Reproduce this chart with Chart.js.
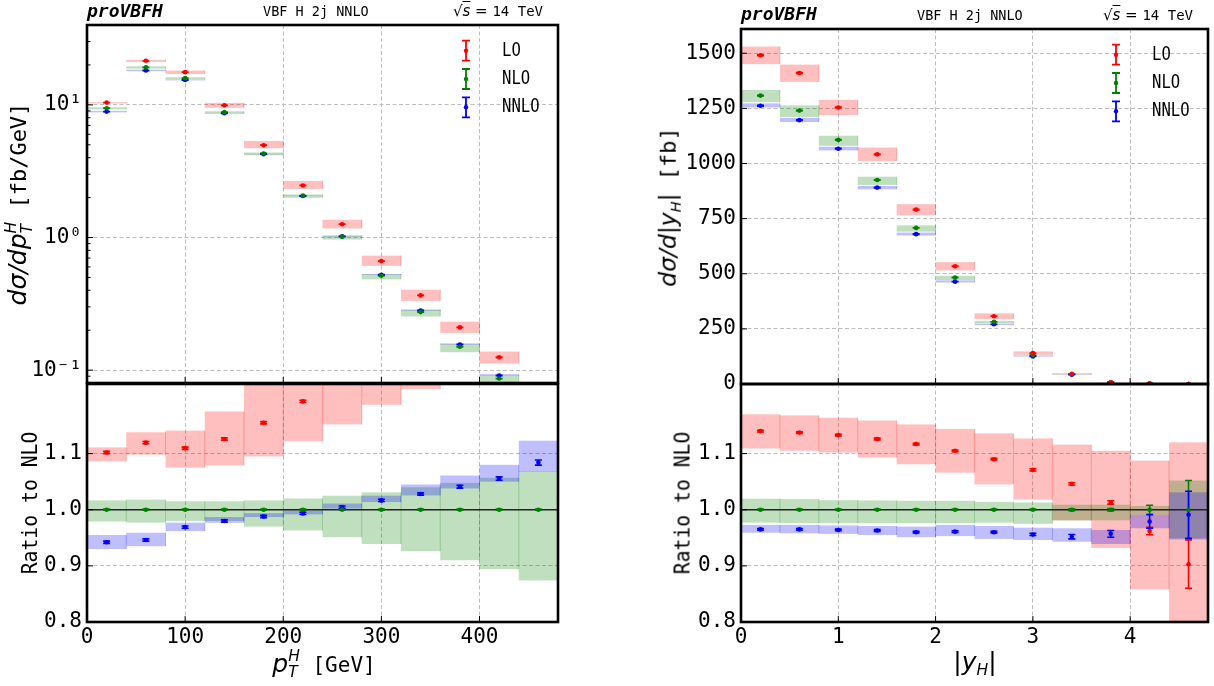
<!DOCTYPE html>
<html>
<head>
<meta charset="utf-8">
<title>proVBFH VBF H 2j NNLO</title>
<script src="https://cdn.jsdelivr.net/npm/chart.js@4/dist/chart.umd.min.js"></script>
<style>
  html, body { margin: 0; padding: 0; background: #fff; }
  #fig { position: relative; width: 1214px; height: 686px; overflow: hidden; background: #fff; }
  canvas { position: absolute; }
  .txt { position: absolute; white-space: nowrap; line-height: 1; color: #000; }
  .mono { font-family: "DejaVu Sans Mono", monospace; }
  .math { font-family: "DejaVu Sans", sans-serif; font-style: italic; }
  .up { font-family: "DejaVu Sans", sans-serif; }
  .rot { transform: translate(-50%, -50%) rotate(-90deg); }
  .rotc { transform: translate(-50%, -50%) rotate(-90deg) scaleX(0.94); }
  .hc { transform: translateX(-50%); }
  .ss { display: inline-block; vertical-align: -5px; font-size: 0.62em; line-height: 1; font-family: "DejaVu Sans", sans-serif; font-style: italic; }
  .ss span { display: block; }
  .sub { font-size: 0.62em; vertical-align: -5px; font-family: "DejaVu Sans", sans-serif; font-style: italic; }
  .ol { text-decoration: overline; }
</style>
</head>
<body>
<div id="fig">
  <canvas id="ptMain" width="570" height="390" style="left:0;top:0"></canvas>
  <canvas id="ptRatio" width="570" height="306" style="left:0;top:380px"></canvas>
  <canvas id="yhMain" width="574" height="390" style="left:640px;top:0"></canvas>
  <canvas id="yhRatio" width="574" height="306" style="left:640px;top:380px"></canvas>

  <div class="txt mono" style="left:87px;top:2px;font-size:18px;font-weight:bold;font-style:italic">proVBFH</div>
  <div class="txt mono" style="left:263px;top:5px;font-size:13.5px">VBF H 2j NNLO</div>
  <div class="txt" style="right:671px;top:4px;font-size:15px"><span class="up">√<span class="math ol">s</span> = </span><span class="mono" style="font-size:14px">14 TeV</span></div>

  <div class="txt mono" style="left:741px;top:5px;font-size:18px;font-weight:bold;font-style:italic">proVBFH</div>
  <div class="txt mono" style="left:917px;top:9px;font-size:13.5px">VBF H 2j NNLO</div>
  <div class="txt" style="right:21px;top:8px;font-size:15px"><span class="up">√<span class="math ol">s</span> = </span><span class="mono" style="font-size:14px">14 TeV</span></div>

  <div class="txt rot" style="left:19px;top:204px;font-size:25px"><span class="math">dσ/dp</span><span class="ss"><span>H</span><span>T</span></span><span class="mono" style="font-size:22px"> [fb/GeV]</span></div>
  <div class="txt mono rotc" style="left:30px;top:503px;font-size:21px">Ratio to NLO</div>
  <div class="txt hc" style="left:324px;top:649px;font-size:25px"><span class="math">p</span><span class="ss"><span>H</span><span>T</span></span><span class="mono" style="font-size:21px"> [GeV]</span></div>

  <div class="txt rot" style="left:670px;top:207px;font-size:23.5px"><span class="math">dσ/d</span><span class="up">|</span><span class="math">y</span><span class="sub">H</span><span class="up">|</span><span class="mono" style="font-size:22px"> [fb]</span></div>
  <div class="txt mono rotc" style="left:683px;top:503px;font-size:21px">Ratio to NLO</div>
  <div class="txt hc" style="left:975px;top:649px;font-size:25px"><span class="up">|</span><span class="math">y</span><span class="sub">H</span><span class="up">|</span></div>
</div>
<script>
// Higgs transverse momentum, bins of 40 GeV
const ptEdges = [0, 40, 80, 120, 160, 200, 240, 280, 320, 360, 400, 440, 480];
const ptNlo = [9.44, 19.2, 15.9, 8.81, 4.30, 2.07, 1.015, 0.515, 0.274, 0.150, 0.0864, 0.0496];
const ptLoRatio = [1.102, 1.1195, 1.1095, 1.126, 1.155, 1.193, 1.241, 1.289, 1.336, 1.40, 1.447, 1.50];
const ptLoDown = [1.086, 1.098, 1.075, 1.079, 1.095, 1.122, 1.152, 1.187, 1.215, 1.273, 1.296, 1.35];
const ptLoUp = [1.111, 1.138, 1.141, 1.175, 1.244, 1.29, 1.34, 1.417, 1.474, 1.547, 1.597, 1.625];
const ptLoStat = [0.002, 0.002, 0.002, 0.002, 0.002, 0.002, 0.002, 0.003, 0.003, 0.003, 0.004, 0.004];
const ptNloDown = [0.979, 0.977, 0.980, 0.980, 0.970, 0.963, 0.951, 0.939, 0.926, 0.910, 0.894, 0.874];
const ptNloUp = [1.0166, 1.018, 1.015, 1.015, 1.0166, 1.020, 1.025, 1.031, 1.040, 1.048, 1.057, 1.069];
const ptNloStat = [0.001, 0.001, 0.001, 0.001, 0.001, 0.001, 0.001, 0.001, 0.001, 0.001, 0.001, 0.001];
const ptNnloRatio = [0.942, 0.946, 0.969, 0.980, 0.988, 0.9935, 1.0047, 1.0166, 1.028, 1.041, 1.0556, 1.084];
const ptNnloDown = [0.930, 0.935, 0.962, 0.9767, 0.987, 0.9917, 1.002, 1.0136, 1.0254, 1.038, 1.050, 1.068];
const ptNnloUp = [0.955, 0.959, 0.977, 0.987, 0.994, 0.9988, 1.011, 1.025, 1.045, 1.061, 1.080, 1.123];
const ptNnloStat = [0.002, 0.002, 0.002, 0.002, 0.002, 0.002, 0.002, 0.002, 0.002, 0.0025, 0.003, 0.0045];

// Higgs absolute rapidity, bins of 0.4
const yhEdges = [0, 0.4, 0.8, 1.2, 1.6, 2.0, 2.4, 2.8, 3.2, 3.6, 4.0, 4.4, 4.8];
const yhNlo = [1308, 1240, 1107, 925, 708, 483, 282, 131, 44, 7.5, 1.6, 0.25];
const yhLoRatio = [1.140, 1.1375, 1.133, 1.126, 1.117, 1.105, 1.090, 1.071, 1.046, 1.013, 0.962, 0.903];
const yhLoDown = [1.109, 1.105, 1.102, 1.093, 1.081, 1.066, 1.045, 1.018, 0.981, 0.932, 0.858, 0.78];
const yhLoUp = [1.170, 1.168, 1.164, 1.159, 1.152, 1.144, 1.136, 1.127, 1.116, 1.105, 1.0875, 1.12];
const yhLoStat = [0.0015, 0.0015, 0.0015, 0.0015, 0.0015, 0.0015, 0.0015, 0.002, 0.002, 0.003, 0.0066, 0.043];
const yhNloDown = [0.977, 0.976, 0.976, 0.976, 0.976, 0.976, 0.977, 0.975, 0.981, 0.981, 0.991, 0.949];
const yhNloUp = [1.0196, 1.019, 1.017, 1.0165, 1.016, 1.016, 1.014, 1.013, 1.009, 1.009, 1.007, 1.052];
const yhNloStat = [0.001, 0.001, 0.001, 0.001, 0.001, 0.001, 0.001, 0.001, 0.0015, 0.002, 0.008, 0.052];
const yhNnloRatio = [0.965, 0.965, 0.964, 0.963, 0.960, 0.961, 0.960, 0.956, 0.952, 0.957, 0.979, 0.991];
const yhNnloDown = [0.959, 0.958, 0.957, 0.955, 0.951, 0.953, 0.948, 0.946, 0.943, 0.939, 0.967, 0.947];
const yhNnloUp = [0.973, 0.973, 0.972, 0.971, 0.970, 0.973, 0.971, 0.968, 0.967, 0.964, 0.991, 1.031];
const yhNnloStat = [0.0015, 0.0015, 0.0015, 0.0015, 0.0015, 0.0015, 0.0015, 0.002, 0.004, 0.006, 0.012, 0.042];

// axis ticks
const ptTicks = [0, 100, 200, 300, 400];
const yhTicks = [0, 1, 2, 3, 4];
const xsLogTicks = [0.1, 1, 10];
const xsLogMinor = [0.08, 0.09, 0.2, 0.3, 0.4, 0.5, 0.6, 0.7, 0.8, 0.9, 2, 3, 4, 5, 6, 7, 8, 9, 20, 30, 40];
const xsLogLabels = ['10⁻¹', '10⁰', '10¹'];
const yhXsTicks = [0, 250, 500, 750, 1000, 1250, 1500];
const ratioTicks = [0.8, 0.9, 1.0, 1.1];

const colors = { LO: '#ff0000', NLO: '#008000', NNLO: '#0000ff' };
const fills = { LO: 'rgba(255,0,0,0.25)', NLO: 'rgba(0,128,0,0.25)', NNLO: 'rgba(0,0,255,0.25)' };
const monoFont = '"DejaVu Sans Mono", monospace';
const gridColor = '#bdbdbd';

// one perturbative order, scaled by "base" (NLO cross section, or 1 for ratios)
function order(name, ratio, down, up, stat, base) {
  return {
    name,
    color: colors[name],
    fill: fills[name],
    y: ratio.map((r, i) => r * base[i]),
    lo: down.map((r, i) => r * base[i]),
    hi: up.map((r, i) => r * base[i]),
    err: stat.map((r, i) => r * base[i]),
  };
}

function drawPanel(id, spec) {
  const edges = spec.edges;
  const centers = edges.slice(0, -1).map((e, i) => (e + edges[i + 1]) / 2);

  const bandsAndBars = {
    id: 'bandsAndBars',
    beforeDatasetsDraw(chart) {
      const { ctx, chartArea: a, scales: { x, y } } = chart;
      ctx.save();
      ctx.beginPath();
      ctx.rect(a.left, a.top, a.right - a.left, a.bottom - a.top);
      ctx.clip();

      spec.series.forEach((s) => {
        ctx.fillStyle = s.fill;
        ctx.strokeStyle = s.fill;
        ctx.lineWidth = 1;
        s.lo.forEach((lo, i) => {
          const x0 = x.getPixelForValue(edges[i]);
          const x1 = x.getPixelForValue(edges[i + 1]);
          const y0 = y.getPixelForValue(s.hi[i]);
          const y1 = y.getPixelForValue(lo);
          ctx.fillRect(x0, y0, x1 - x0, y1 - y0);
          ctx.beginPath();
          ctx.moveTo(x1, y0);
          ctx.lineTo(x1, y1);
          ctx.stroke();
        });
      });

      if (spec.unitLine) {
        const py = y.getPixelForValue(1);
        ctx.strokeStyle = '#222';
        ctx.lineWidth = 1.3;
        ctx.beginPath();
        ctx.moveTo(a.left, py);
        ctx.lineTo(a.right, py);
        ctx.stroke();
      }

      spec.series.forEach((s) => {
        ctx.strokeStyle = s.color;
        ctx.lineWidth = 1.6;
        ctx.beginPath();
        s.y.forEach((v, i) => {
          const px = x.getPixelForValue(centers[i]);
          const top = y.getPixelForValue(v + s.err[i]);
          const bot = y.getPixelForValue(v - s.err[i]);
          ctx.moveTo(px, top);
          ctx.lineTo(px, bot);
          ctx.moveTo(px - 3.5, top);
          ctx.lineTo(px + 3.5, top);
          ctx.moveTo(px - 3.5, bot);
          ctx.lineTo(px + 3.5, bot);
        });
        ctx.stroke();
      });
      ctx.restore();
    },
    afterDraw(chart) {
      const { ctx, chartArea: a, scales: { x, y } } = chart;
      ctx.save();
      ctx.strokeStyle = '#000';
      ctx.lineWidth = 1;
      ctx.beginPath();
      spec.xTicks.forEach((v) => {
        const px = x.getPixelForValue(v);
        ctx.moveTo(px, a.bottom);
        ctx.lineTo(px, a.bottom - 6);
      });
      spec.yTicks.forEach((v) => {
        const py = y.getPixelForValue(v);
        ctx.moveTo(a.left, py);
        ctx.lineTo(a.left + 6, py);
      });
      (spec.yMinor || []).forEach((v) => {
        const py = y.getPixelForValue(v);
        ctx.moveTo(a.left, py);
        ctx.lineTo(a.left + 3.5, py);
      });
      ctx.stroke();

      ctx.lineWidth = 2.6;
      ctx.strokeRect(a.left, a.top, a.right - a.left, a.bottom - a.top);

      if (spec.legend) {
        spec.series.forEach((s, i) => {
          const gx = a.right - 92;
          const gy = a.top + 25.7 + i * 28.3;
          ctx.strokeStyle = s.color;
          ctx.lineWidth = 1.8;
          ctx.beginPath();
          ctx.moveTo(gx, gy - 10);
          ctx.lineTo(gx, gy + 10);
          ctx.moveTo(gx - 4, gy - 10);
          ctx.lineTo(gx + 4, gy - 10);
          ctx.moveTo(gx - 4, gy + 10);
          ctx.lineTo(gx + 4, gy + 10);
          ctx.stroke();
          ctx.fillStyle = s.color;
          ctx.beginPath();
          ctx.arc(gx, gy, 2.2, 0, Math.PI * 2);
          ctx.fill();

          ctx.save();
          ctx.translate(gx + 36, gy);
          ctx.scale(0.82, 1);
          ctx.fillStyle = '#000';
          ctx.font = '19px ' + monoFont;
          ctx.textBaseline = 'middle';
          ctx.fillText(s.name, 0, 0);
          ctx.restore();
        });
      }
      ctx.restore();
    },
  };

  const chart = new Chart(document.getElementById(id), {
    type: 'scatter',
    data: {
      datasets: spec.series.map((s) => ({
        label: s.name,
        data: centers.map((c, i) => ({ x: c, y: s.y[i] })),
        pointRadius: 2.3,
        pointBorderWidth: 0,
        pointBackgroundColor: s.color,
        showLine: false,
        clip: 0,
      })),
    },
    options: {
      responsive: false,
      animation: false,
      events: [],
      layout: { padding: { left: 0, right: 0, top: spec.area.top, bottom: 0 } },
      plugins: { legend: { display: false }, tooltip: { enabled: false } },
      scales: {
        x: {
          type: 'linear',
          bounds: 'data',
          min: edges[0],
          max: edges[edges.length - 1],
          afterBuildTicks: (scale) => { scale.ticks = spec.xTicks.map((v) => ({ value: v })); },
          afterFit: (scale) => {
            scale.height = spec.xHeight;
            scale.paddingLeft = 0;
            scale.paddingRight = 0;
          },
          ticks: {
            display: spec.xLabels,
            autoSkip: false,
            maxRotation: 0,
            minRotation: 0,
            padding: 3,
            color: '#000',
            font: { family: monoFont, size: 21 },
            callback: (v) => String(v),
          },
          grid: { color: gridColor, lineWidth: 1, drawTicks: false },
          border: { display: false, dash: [4, 2.5] },
        },
        y: {
          type: spec.yType,
          bounds: 'data',
          min: spec.yMin,
          max: spec.yMax,
          afterBuildTicks: (scale) => { scale.ticks = spec.yTicks.map((v) => ({ value: v })); },
          afterFit: (scale) => {
            scale.width = spec.area.left;
            scale.paddingTop = 0;
            scale.paddingBottom = 0;
          },
          ticks: {
            autoSkip: false,
            padding: 5,
            color: '#000',
            font: { family: monoFont, size: 21 },
            callback: spec.yFormat,
          },
          grid: { color: gridColor, lineWidth: 1, drawTicks: false },
          border: { display: false, dash: [4, 2.5] },
        },
      },
    },
    plugins: [bandsAndBars],
  });

  // nudge the layout padding until the plot frame sits where the panel wants it
  const pad = { left: 0, right: 0, top: spec.area.top, bottom: 0 };
  for (let k = 0; k < 4; k++) {
    const a = chart.chartArea;
    pad.top += spec.area.top - a.top;
    pad.bottom += a.bottom - spec.area.bottom;
    pad.right += a.right - spec.area.right;
    chart.options.layout.padding = { ...pad };
    chart.update();
  }
  return chart;
}

const ptOnes = ptNlo.map(() => 1);
const yhOnes = yhNlo.map(() => 1);

drawPanel('ptMain', {
  edges: ptEdges,
  series: [
    order('LO', ptLoRatio, ptLoDown, ptLoUp, ptLoStat, ptNlo),
    order('NLO', ptOnes, ptNloDown, ptNloUp, ptNloStat, ptNlo),
    order('NNLO', ptNnloRatio, ptNnloDown, ptNnloUp, ptNnloStat, ptNlo),
  ],
  xTicks: ptTicks,
  xLabels: false,
  xHeight: 0,
  yType: 'logarithmic',
  yMin: 0.08,
  yMax: 40,
  yTicks: xsLogTicks,
  yMinor: xsLogMinor,
  yFormat: (v) => xsLogLabels[xsLogTicks.indexOf(v)] || '',
  area: { left: 87, right: 558, top: 25, bottom: 383 },
  legend: true,
});

drawPanel('ptRatio', {
  edges: ptEdges,
  series: [
    order('LO', ptLoRatio, ptLoDown, ptLoUp, ptLoStat, ptOnes),
    order('NLO', ptOnes, ptNloDown, ptNloUp, ptNloStat, ptOnes),
    order('NNLO', ptNnloRatio, ptNnloDown, ptNnloUp, ptNnloStat, ptOnes),
  ],
  xTicks: ptTicks,
  xLabels: true,
  xHeight: 64,
  yType: 'linear',
  yMin: 0.8,
  yMax: 1.224,
  yTicks: ratioTicks,
  yFormat: (v) => v.toFixed(1),
  area: { left: 87, right: 558, top: 3, bottom: 242 },
  unitLine: true,
});

drawPanel('yhMain', {
  edges: yhEdges,
  series: [
    order('LO', yhLoRatio, yhLoDown, yhLoUp, yhLoStat, yhNlo),
    order('NLO', yhOnes, yhNloDown, yhNloUp, yhNloStat, yhNlo),
    order('NNLO', yhNnloRatio, yhNnloDown, yhNnloUp, yhNnloStat, yhNlo),
  ],
  xTicks: yhTicks,
  xLabels: false,
  xHeight: 0,
  yType: 'linear',
  yMin: 0,
  yMax: 1610,
  yTicks: yhXsTicks,
  yFormat: (v) => String(v),
  area: { left: 101, right: 568, top: 29, bottom: 384 },
  legend: true,
});

drawPanel('yhRatio', {
  edges: yhEdges,
  series: [
    order('LO', yhLoRatio, yhLoDown, yhLoUp, yhLoStat, yhOnes),
    order('NLO', yhOnes, yhNloDown, yhNloUp, yhNloStat, yhOnes),
    order('NNLO', yhNnloRatio, yhNnloDown, yhNnloUp, yhNnloStat, yhOnes),
  ],
  xTicks: yhTicks,
  xLabels: true,
  xHeight: 64,
  yType: 'linear',
  yMin: 0.8,
  yMax: 1.224,
  yTicks: ratioTicks,
  yFormat: (v) => v.toFixed(1),
  area: { left: 101, right: 568, top: 4, bottom: 242 },
  unitLine: true,
});
</script>
</body>
</html>
